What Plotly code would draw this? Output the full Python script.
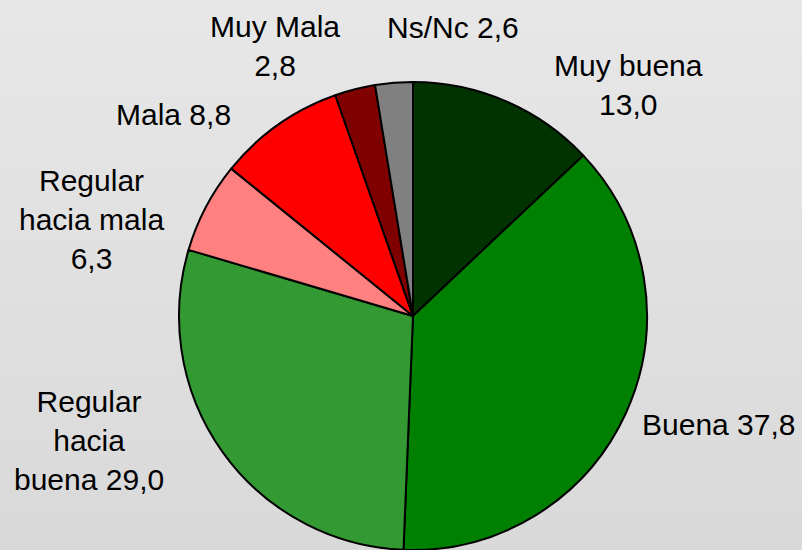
import plotly.graph_objects as go

# ---- data ----
categories = ["Muy buena", "Buena", "Regular hacia buena", "Regular hacia mala",
              "Mala", "Muy Mala", "Ns/Nc"]
values = [13.0, 37.8, 29.0, 6.3, 8.8, 2.8, 2.6]
label_lines = ["Muy buena<br>{v}", "Buena {v}", "Regular<br>hacia<br>buena {v}",
               "Regular<br>hacia mala<br>{v}", "Mala {v}", "Muy Mala<br>{v}", "Ns/Nc {v}"]
colors = ["#003300", "#008000", "#339933", "#FF8080", "#FF0000", "#800000", "#808080"]

# label anchor positions in pixels (x, y from top)
label_pos = [(628, 85), (718, 424), (89, 441), (91, 219), (173, 114), (275, 46), (453, 28)]

W, H = 802, 550
cx, cy, r = 413, 316, 234

fig = go.Figure()

# background gradient
fig.add_trace(go.Scatter(
    x=[0, 1, 1, 0, 0], y=[0, 0, 1, 1, 0], mode="lines", fill="toself",
    line=dict(width=0), hoverinfo="skip", showlegend=False,
    fillgradient=dict(type="vertical", colorscale=[[0, "#d9d9d9"], [1, "#e7e7e7"]]),
))

fig.add_trace(go.Pie(
    labels=categories, values=values, sort=False, direction="clockwise", rotation=0,
    marker=dict(colors=colors, line=dict(color="black", width=2)),
    textinfo="none", hoverinfo="label+value", showlegend=False,
    domain=dict(x=[(cx - r) / W, (cx + r) / W], y=[(H - cy - r) / H, (H - cy + r) / H]),
))

annotations = []
for tpl, v, (px, py) in zip(label_lines, values, label_pos):
    annotations.append(dict(
        text=tpl.format(v=f"{v:.1f}".replace(".", ",")),
        x=px / W, y=1 - py / H, xref="paper", yref="paper",
        xanchor="center", yanchor="middle", showarrow=False, align="center",
        font=dict(family="Liberation Sans, Arial, sans-serif", size=30, color="black"),
    ))

fig.update_layout(
    width=W, height=H, margin=dict(l=0, r=0, t=0, b=0),
    paper_bgcolor="#e0e0e0", plot_bgcolor="rgba(0,0,0,0)",
    xaxis=dict(range=[0, 1], visible=False, fixedrange=True),
    yaxis=dict(range=[0, 1], visible=False, fixedrange=True),
    annotations=annotations,
)

fig.write_html(
    "out.html",
    config={"displayModeBar": False},
    post_script="document.body.style.margin='0';document.body.style.overflow='hidden';",
)
